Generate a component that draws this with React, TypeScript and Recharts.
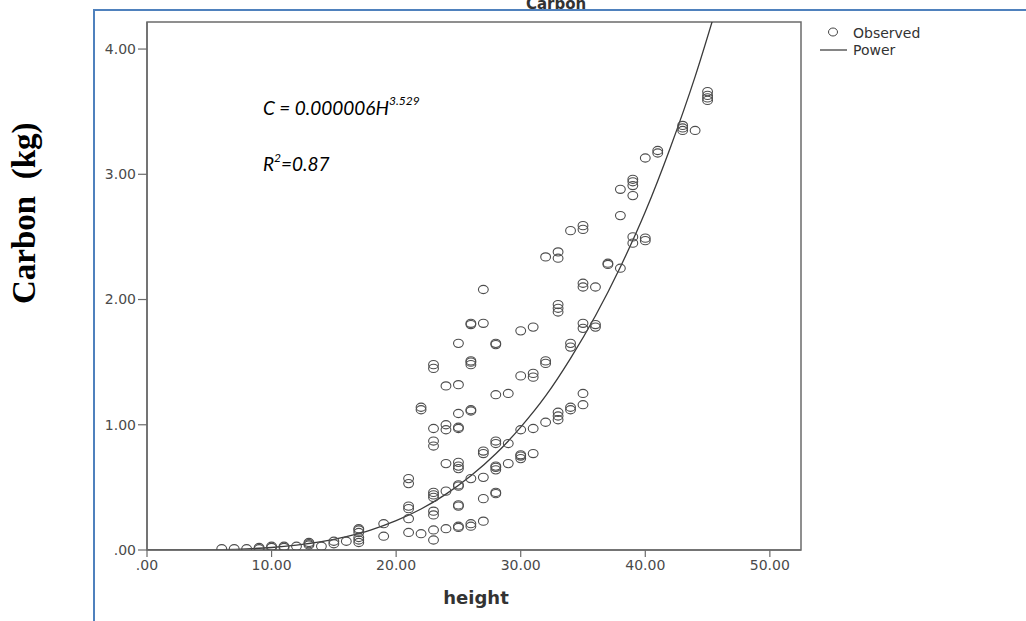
import React from 'react';
import { ComposedChart, Scatter, Line, XAxis, YAxis, ReferenceArea } from 'recharts';

// Observed points, grouped by tree height
const obsHeights = [6, 7, 8, 9, 10, 11, 12, 13, 14, 15, 16, 17, 19, 21, 22, 23, 24, 25, 26, 27, 28, 29, 30, 31, 32, 33, 34, 35, 36, 37, 38, 39, 40, 41, 43, 44, 45];
const obsCarbonByHeight = [
  [0.01],
  [0.01],
  [0.01],
  [0.01, 0.02],
  [0.02, 0.03],
  [0.02, 0.03],
  [0.03],
  [0.04, 0.05, 0.06],
  [0.03],
  [0.05, 0.07],
  [0.07],
  [0.06, 0.08, 0.1, 0.14, 0.16, 0.17],
  [0.11, 0.21],
  [0.14, 0.25, 0.33, 0.35, 0.53, 0.57],
  [0.13, 1.12, 1.14],
  [0.08, 0.16, 0.28, 0.31, 0.42, 0.44, 0.46, 0.83, 0.87, 0.97, 1.45, 1.48],
  [0.17, 0.47, 0.69, 0.96, 1.0, 1.31],
  [0.18, 0.19, 0.35, 0.36, 0.51, 0.52, 0.65, 0.67, 0.7, 0.97, 0.98, 1.09, 1.32, 1.65],
  [0.19, 0.21, 0.57, 1.11, 1.12, 1.48, 1.5, 1.51, 1.8, 1.81],
  [0.23, 0.41, 0.58, 0.77, 0.79, 1.81, 2.08],
  [0.45, 0.46, 0.64, 0.66, 0.67, 0.85, 0.87, 1.24, 1.64, 1.65],
  [0.69, 0.85, 1.25],
  [0.73, 0.75, 0.76, 0.96, 1.39, 1.75],
  [0.77, 0.97, 1.38, 1.41, 1.78],
  [1.02, 1.49, 1.51, 2.34],
  [1.04, 1.07, 1.1, 1.9, 1.93, 1.96, 2.33, 2.38],
  [1.12, 1.14, 1.62, 1.65, 2.55],
  [1.16, 1.25, 1.77, 1.81, 2.1, 2.13, 2.56, 2.59],
  [1.78, 1.8, 2.1],
  [2.28, 2.29],
  [2.25, 2.67, 2.88],
  [2.45, 2.5, 2.83, 2.91, 2.94, 2.96],
  [2.47, 2.49, 3.13],
  [3.17, 3.19],
  [3.35, 3.37, 3.39],
  [3.35],
  [3.59, 3.61, 3.63, 3.66],
];

// Fitted power curve
const curveHeights = [0, 2, 4, 6, 8, 10, 12, 14, 16, 18, 20, 22, 24, 26, 28, 30, 32, 34, 36, 38, 40, 42, 44, 46];
const curveCarbon = [0, 0.0001, 0.0008, 0.0033, 0.0092, 0.02, 0.039, 0.066, 0.107, 0.161, 0.234, 0.327, 0.446, 0.592, 0.768, 0.981, 1.23, 1.53, 1.87, 2.26, 2.7, 3.21, 3.78, 4.43];

const xTicks = [0, 10, 20, 30, 40, 50];
const xTickLabels = ['.00', '10.00', '20.00', '30.00', '40.00', '50.00'];
const yTicks = [0, 1, 2, 3, 4];
const yTickLabels = ['.00', '1.00', '2.00', '3.00', '4.00'];

const obsData = obsHeights.flatMap((h, i) => obsCarbonByHeight[i].map((c) => ({ h, c })));
const curveData = curveHeights.map((h, i) => ({ h, c: curveCarbon[i] }));

const X_MAX = 52.5;
const Y_MAX = 4.216;
const AXIS = '#6b6b6b';
const TICK_FONT = { fill: '#4a4a4a', fontSize: 14, fontFamily: 'DejaVu Sans' };

const Ring = (props: any) => {
  const { cx, cy } = props;
  if (cx == null || cy == null) return null;
  return <ellipse cx={cx} cy={cy} rx={4.9} ry={4.1} fill="none" stroke="#4d4d4d" strokeWidth={1.1} />;
};

export default function App() {
  return (
    <div style={{ position: 'absolute', left: 0, top: 0, width: 1026, height: 621, overflow: 'hidden', background: '#fff' }}>
      <div
        style={{
          position: 'absolute',
          left: 93,
          top: 9,
          width: 1000,
          height: 700,
          borderLeft: '2px solid #4f81bd',
          borderTop: '2px solid #4f81bd',
        }}
      />
      <div style={{ position: 'absolute', left: 0, top: 0 }}>
        <ComposedChart width={1026} height={621} margin={{ top: 22, right: 225, bottom: 31, left: 97 }}>
          <XAxis
            type="number"
            dataKey="h"
            domain={[0, X_MAX]}
            ticks={xTicks}
            tickFormatter={(v: number) => xTickLabels[xTicks.indexOf(v)]}
            allowDataOverflow
            height={40}
            axisLine={{ stroke: AXIS, strokeWidth: 1.5 }}
            tickLine={{ stroke: AXIS, strokeWidth: 1.2 }}
            tickSize={7}
            tickMargin={3}
            tick={TICK_FONT}
          />
          <YAxis
            type="number"
            dataKey="c"
            domain={[0, Y_MAX]}
            ticks={yTicks}
            tickFormatter={(v: number) => yTickLabels[yTicks.indexOf(v)]}
            allowDataOverflow
            width={50}
            axisLine={{ stroke: AXIS, strokeWidth: 1.5 }}
            tickLine={{ stroke: AXIS, strokeWidth: 1.2 }}
            tickSize={9}
            tickMargin={2}
            tick={TICK_FONT}
          />
          <ReferenceArea x1={0} x2={X_MAX} y1={0} y2={Y_MAX} fill="none" stroke={AXIS} strokeWidth={1.5} ifOverflow="visible" />
          <Line
            data={curveData}
            dataKey="c"
            type="monotone"
            stroke="#3a3a3a"
            strokeWidth={1.3}
            dot={false}
            activeDot={false}
            isAnimationActive={false}
          />
          <Scatter data={obsData} dataKey="c" shape={Ring} isAnimationActive={false} />
        </ComposedChart>
      </div>
      <svg width={1026} height={621} style={{ position: 'absolute', left: 0, top: 0, pointerEvents: 'none' }}>
        <text x={556} y={9} textAnchor="middle" fontFamily="DejaVu Sans" fontWeight="bold" fontSize={15} fill="#333">
          Carbon
        </text>
        <text
          transform="translate(35,304) rotate(-90)"
          fontFamily="Liberation Serif"
          fontWeight="bold"
          fontSize={33}
          fill="#000"
        >
          Carbon{'\u00A0'} (kg)
        </text>
        <text x={263} y={115} fontFamily="Lato" fontStyle="italic" fontSize={19} fill="#000">
          C = 0.000006H
          <tspan dy={-10} fontSize={12}>
            3.529
          </tspan>
        </text>
        <text x={263} y={171} fontFamily="Lato" fontStyle="italic" fontSize={19} fill="#000">
          R
          <tspan dy={-9} fontSize={12}>
            2
          </tspan>
          <tspan dy={9}>=0.87</tspan>
        </text>
        <ellipse cx={833} cy={32} rx={4.5} ry={4} fill="none" stroke="#444" strokeWidth={1} />
        <text x={853} y={38} fontFamily="DejaVu Sans" fontSize={14} fill="#333">
          Observed
        </text>
        <line x1={820} x2={847} y1={50} y2={50} stroke="#333" strokeWidth={1.2} />
        <text x={853} y={55} fontFamily="DejaVu Sans" fontSize={14} fill="#333">
          Power
        </text>
        <text x={476} y={604} textAnchor="middle" fontFamily="DejaVu Sans" fontWeight="bold" fontSize={18} fill="#333">
          height
        </text>
      </svg>
    </div>
  );
}
